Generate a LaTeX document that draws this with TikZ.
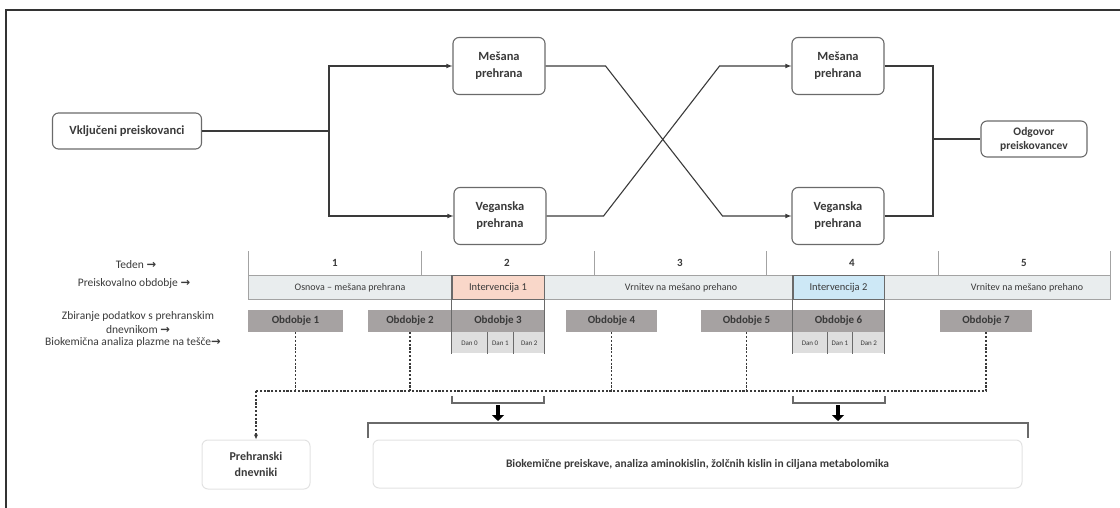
\documentclass[tikz,border=0pt]{standalone}
\usepackage{fontspec}
\setmainfont{Carlito}
\newfontfamily\arrowfont{DejaVu Sans}
\usetikzlibrary{
	arrows.meta,
	positioning
}
\definecolor{ink}{HTML}{3A3A3A}
\definecolor{edge}{HTML}{6A6A6A}
\definecolor{rowfill}{HTML}{E9EDEE}
\definecolor{rowline}{HTML}{A3A3A3}
\definecolor{salmon}{HTML}{F9D7C9}
\definecolor{skyfill}{HTML}{CDE8F6}
\definecolor{obdfill}{HTML}{A6A2A2}
\definecolor{danfill}{HTML}{DEDEDE}
\definecolor{faint}{HTML}{E2E2E2}
\newcommand{\ra}{{\arrowfont\bfseries →}}

\begin{document}
\begin{tikzpicture}
[x=1pt,y=-1pt,text=ink,
arm/.style={ink,line width=1.1pt},
flowbox/.style={rectangle,rounded corners=6pt,draw=edge,line width=1.1pt,fill=white,align=center,minimum width=92pt,minimum height=57pt,font=\bfseries\fontsize{12.5}{17}\selectfont},
period/.style={rectangle,draw=rowline,fill=rowfill,line width=1pt,minimum height=24pt,inner sep=0pt,font=\fontsize{10}{12}\selectfont},
obd/.style={rectangle,fill=obdfill,minimum height=22pt,inner sep=0pt,font=\bfseries\fontsize{11}{13}\selectfont},
dan/.style={rectangle,fill=danfill,minimum height=21pt,inner sep=0pt,font=\fontsize{7}{8}\selectfont},
wk/.style={font=\bfseries\fontsize{11}{13}\selectfont},
lefttext/.style={align=center,inner sep=0pt,font=\fontsize{11.5}{14}\selectfont},
dots/.style={dash pattern=on 2.2pt off 1.6pt,ink,line width=1.1pt},
brk/.style={edge,line width=1.2pt},
fat/.style={black,line width=4pt,-{Triangle[width=12pt,length=6pt]}},
endbox/.style={rectangle,rounded corners=6pt,draw=faint,line width=1pt,align=center,font=\bfseries\fontsize{12}{16}\selectfont}]
\useasboundingbox (0,0) rectangle (1120,508);
\draw[black!80,line width=1.2pt] (6,508) -- (6,10) -- (1120,10);

\node (vkl) at (127,131) [flowbox,minimum width=149pt,minimum height=36pt] {Vključeni preiskovanci};
\node (mes1) at (499,66) [flowbox] {Mešana\\prehrana};
\node (veg1) at (500,216) [flowbox] {Veganska\\prehrana};
\node (mes2) at (838,66) [flowbox] {Mešana\\prehrana};
\node (veg2) at (838,216) [flowbox] {Veganska\\prehrana};
\node (odg) at (1034,139) [flowbox,minimum width=106pt,minimum height=36pt,font=\bfseries\fontsize{11.5}{14}\selectfont] {Odgovor\\preiskovancev};
\coordinate (split) at (329,131);
\coordinate (merge) at (933,139);
\draw[arm] (vkl) -- (split);
\draw[arm,-latex] (split) |- (mes1);
\draw[arm,-latex] (split) |- (veg1);
\draw[arm,-latex] (mes1.east) -- ++(60,0) -- ++(117,150) -- (veg2);
\draw[arm,-latex] (veg1.east) -- ++(57,0) -- ++(116,-150) -- (mes2);
\draw[arm] (mes2.east) -| (merge);
\draw[arm] (veg2.east) -| (merge);
\draw[arm] (merge) -- (odg);

\node (lteden) at (136,265) [lefttext] {Teden \ra};
\node (lperiod) at (134,283) [lefttext] {Preiskovalno obdobje \ra};
\node (lzbir) at (138,323) [lefttext] {Zbiranje podatkov s prehranskim\\dnevnikom \ra};
\node (lbio) at (133,342) [lefttext] {Biokemična analiza plazme na tešče\ra};

\foreach \x in {248,421,594,766,938,1110}
  \draw[rowline,line width=1pt] (\x,251) -- (\x,276);
\foreach \n/\x in {1/335,2/507,3/680,4/852,5/1024}
  \node (wk\n) at (\x,263) [wk] {\n};

\node (osn) at (350,287.5) [period,minimum width=204pt] {Osnova – mešana prehrana};
\node (vrn1) at (668.5,287.5) [period,minimum width=249pt] {\hspace*{25pt}Vrnitev na mešano prehano};
\node (vrn2) at (997,287.5) [period,minimum width=226pt] {\hspace*{60pt}Vrnitev na mešano prehano};
\node (int1) at (498,287.5) [period,draw=edge,fill=salmon,minimum width=92pt,font=\fontsize{10.5}{12}\selectfont] {Intervencija 1};
\node (int2) at (838.5,287.5) [period,draw=edge,fill=skyfill,minimum width=91pt,font=\fontsize{10.5}{12}\selectfont] {Intervencija 2};

\node (ob1) at (295.5,321) [obd,minimum width=95pt] {Obdobje 1};
\node (ob2) at (410,321) [obd,minimum width=84pt] {Obdobje 2};
\node (ob3) at (498,321) [obd,minimum width=92pt] {Obdobje 3};
\node (ob4) at (611.5,321) [obd,minimum width=91pt] {Obdobje 4};
\node (ob5) at (746.5,321) [obd,minimum width=91pt] {Obdobje 5};
\node (ob6) at (838.5,321) [obd,minimum width=91pt] {Obdobje 6};
\node (ob7) at (986,321) [obd,minimum width=92pt] {Obdobje 7};

\node (d3a) [dan,minimum width=35pt,below right=0pt and 0pt of ob3.south west] {Dan 0};
\node (d3b) [dan,minimum width=26pt,right=0pt of d3a] {Dan 1};
\node (d3c) [dan,minimum width=31pt,right=0pt of d3b] {Dan 2};
\node (d6a) [dan,minimum width=34pt,below right=0pt and 0pt of ob6.south west] {Dan 0};
\node (d6b) [dan,minimum width=25pt,right=0pt of d6a] {Dan 1};
\node (d6c) [dan,minimum width=32pt,right=0pt of d6b] {Dan 2};
\foreach \d in {d3a,d3b,d6a,d6b}
  \draw[edge,line width=1.4pt] (\d.north east) -- (\d.south east);
\foreach \i/\d in {int1/d3a,int2/d6a}
  \draw[edge,line width=1.2pt] (\i.north west) -- (\i.north west |- \d.south);
\foreach \i/\d in {int1/d3c,int2/d6c}
  \draw[edge,line width=1.2pt] (\i.north east) -- (\i.north east |- \d.south);

\coordinate (busL) at (256,391);
\draw[dots] (ob7.south) |- (busL);
\foreach \o in {ob1,ob2,ob4,ob5}
  \draw[dots] (\o.south) -- (\o.south |- busL);
\node (pre) at (256,464.5) [endbox,minimum width=108pt,minimum height=49pt] {Prehranski\\dnevniki};
\draw[dots,-{Latex[length=5pt,width=4.5pt]}] (busL) -- (pre);

\draw[brk] (452,396) |- (544,403) -- (544,396);
\draw[brk] (793,396) |- (885,403) -- (885,396);
\draw[brk] (368,438) |- (1028,423) -- (1028,438);
\coordinate (br1) at (498,405);
\coordinate (br2) at (838,405);
\coordinate (big1) at (498,421);
\coordinate (big2) at (838,421);
\draw[fat] (br1) -- (big1);
\draw[fat] (br2) -- (big2);

\node (bio) at (697.5,464) [endbox,minimum width=649pt,minimum height=48pt,font=\bfseries\fontsize{11.5}{14}\selectfont] {Biokemične preiskave, analiza aminokislin, žolčnih kislin in ciljana metabolomika};
\end{tikzpicture}
\end{document}
